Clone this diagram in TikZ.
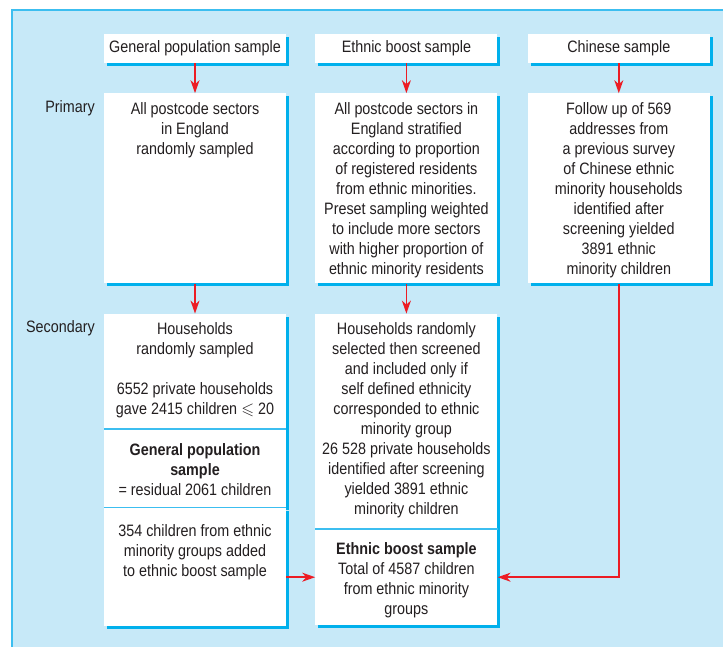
\documentclass[tikz,border=0pt]{standalone}
\usepackage{amssymb}
\usepackage{fontspec}
\setmainfont{Liberation Sans}[FakeStretch=0.87]
\usetikzlibrary{positioning,shadows,arrows.meta}
\definecolor{bgblue}{RGB}{199,233,248}
\definecolor{shadowcyan}{RGB}{0,176,236}
\definecolor{lineblue}{RGB}{60,190,240}
\definecolor{arrowred}{RGB}{236,28,36}
\definecolor{ink}{RGB}{35,31,32}
\tikzset{
  box/.style={rectangle,fill=white,inner sep=0pt,minimum width=182pt,align=center,text=ink,
    font=\fontsize{16.5}{20}\selectfont,
    drop shadow={fill=shadowcyan,opacity=1,shadow xshift=3pt,shadow yshift=-3pt}},
  boxtext/.style={align=center,inner sep=0pt,anchor=north,text=ink,font=\fontsize{16.5}{20}\selectfont},
  divider/.style={draw=lineblue,line width=1.5pt},
  redarrow/.style={draw=arrowred,line width=1.5pt,-{Stealth[length=13pt,width=9pt,inset=4pt]}}
}
\begin{document}
\begin{tikzpicture}[x=1pt,y=-1pt]
  \useasboundingbox (0,0) rectangle (723,647);
  \fill [bgblue] (12,10) rectangle (723,647);
  \draw [lineblue,line width=1.5pt] (12,647) -- (12,10) -- (723,10);
  \node (gpTop) [box,minimum height=29pt] at (195,48.5) {General population sample};
  \node (ebTop) [box,minimum height=29pt,right=29pt of gpTop] {Ethnic boost sample};
  \node (chTop) [box,minimum height=29pt,right=30pt of ebTop] {Chinese sample};
  \node (gpPrim) [box,minimum height=190pt,below=30pt of gpTop] {};
  \node (ebPrim) [box,minimum height=190pt,below=30pt of ebTop] {};
  \node (chPrim) [box,minimum height=190pt,below=30pt of chTop] {};
  \node (gpHouse) [box,minimum height=115pt,below=30pt of gpPrim] {};
  \node (gpResid) [box,minimum height=78pt,anchor=north] at (gpHouse.south) {};
  \node (gpAdded) [box,minimum height=118pt,anchor=north] at (gpResid.south) {};
  \node (ebHouse) [box,minimum height=215pt,below=30pt of ebPrim] {};
  \node (ebTotal) [box,minimum height=96pt,anchor=north] at (ebHouse.south) {};
  \draw [divider] (gpHouse.south west) -- (gpHouse.south east);
  \draw [divider] (gpResid.south west) -- (gpResid.south east);
  \draw [divider] (ebHouse.south west) -- (ebHouse.south east);
  \node (primaryLbl) [boxtext,anchor=base east] at (95,112.7) {Primary};
  \node (secondaryLbl) [boxtext,anchor=base east] at (95,332.7) {Secondary};
  \node (gpPrimText) [boxtext,below=9pt of gpPrim.north] {All postcode sectors\\in England\\randomly sampled};
  \node (ebPrimText) [boxtext,below=9pt of ebPrim.north] {All postcode sectors in\\England stratified\\according to proportion\\of registered residents\\from ethnic minorities.\\Preset sampling weighted\\to include more sectors\\with higher proportion of\\ethnic minority residents};
  \node (chPrimText) [boxtext,below=9pt of chPrim.north] {Follow up of 569\\addresses from\\a previous survey\\of Chinese ethnic\\minority households\\identified after\\screening yielded\\3891 ethnic\\minority children};
  \node (gpHouseText) [boxtext,below=9pt of gpHouse.north] {Households\\randomly sampled\\[20pt]6552 private households\\gave 2415 children $\leqslant$ 20};
  \node (gpResidText) [boxtext,below=14.5pt of gpResid.north] {\textbf{General population}\\\textbf{sample}\\= residual 2061 children};
  \node (gpAddedText) [boxtext,below=16.5pt of gpAdded.north] {354 children from ethnic\\minority groups added\\to ethnic boost sample};
  \node (ebHouseText) [boxtext,below=9pt of ebHouse.north] {Households randomly\\selected then screened\\and included only if\\self defined ethnicity\\corresponded to ethnic\\minority group\\26 528 private households\\identified after screening\\yielded 3891 ethnic\\minority children};
  \node (ebTotalText) [boxtext,below=13.5pt of ebTotal.north] {\textbf{Ethnic boost sample}\\Total of 4587 children\\from ethnic minority\\groups};
  \draw [redarrow] (gpTop) -- (gpPrim);
  \draw [redarrow] (ebTop) -- (ebPrim);
  \draw [redarrow] (chTop) -- (chPrim);
  \draw [redarrow] (gpPrim) -- (gpHouse);
  \draw [redarrow] (ebPrim) -- (ebHouse);
  \draw [redarrow] (chPrim.south) |- (ebTotal.east);
  \draw [redarrow] (gpAdded.east |- ebTotal.west) -- (ebTotal.west);
\end{tikzpicture}
\end{document}
